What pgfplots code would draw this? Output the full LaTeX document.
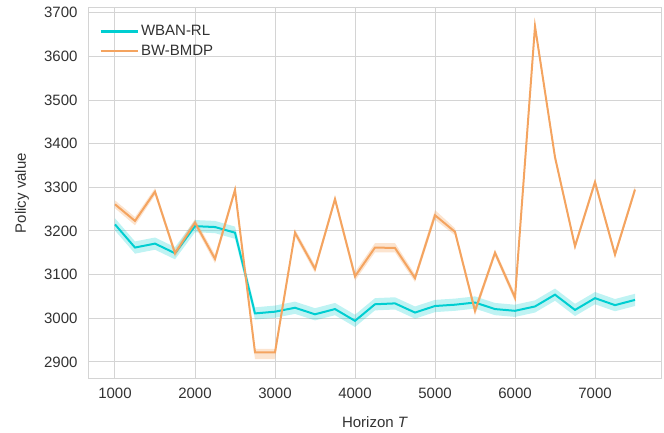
\documentclass[border=0pt]{standalone}
\usepackage{fontspec}
\setmainfont{Liberation Sans}
\usepackage{pgfplots}
\usepackage{pgfplotstable}
\pgfplotsset{compat=1.18}
\usepgfplotslibrary{fillbetween}
\definecolor{wcol}{RGB}{0,206,209}
\definecolor{bcol}{RGB}{244,164,96}
\definecolor{gridc}{RGB}{212,212,212}
\definecolor{txt}{RGB}{50,50,50}
\pgfplotstableread{
x w wlo whi b blo bhi
1000 3215 3201 3229 3261 3252 3270
1250 3162 3148 3176 3223 3213 3232
1500 3171 3157 3185 3290 3282 3298
1750 3149 3135 3163 3149 3140 3158
2000 3211 3197 3225 3219 3211 3227
2250 3209 3195 3223 3136 3126 3146
2500 3196 3182 3210 3294 3286 3302
2750 3011 2997 3025 2922 2906 2930
3000 3015 3001 3029 2922 2906 2930
3250 3024 3010 3038 3196 3188 3204
3500 3009 2995 3023 3113 3104 3122
3750 3021 3007 3035 3273 3265 3281
4000 2994 2980 3008 3096 3086 3106
4250 3032 3018 3046 3162 3151 3172
4500 3034 3020 3048 3161 3151 3172
4750 3013 2999 3027 3092 3083 3101
5000 3028 3014 3042 3236 3226 3248
5250 3031 3017 3045 3198 3190 3206
5500 3036 3022 3050 3017 3006 3026
5750 3021 3007 3035 3150 3142 3158
6000 3017 3003 3031 3047 3038 3056
6250 3027 3013 3041 3669 3661 3677
6500 3054 3040 3068 3369 3361 3377
6750 3019 3005 3033 3165 3157 3173
7000 3046 3032 3060 3312 3304 3320
7250 3030 3016 3044 3146 3138 3154
7500 3042 3028 3056 3295 3287 3303
}\datatable
\begin{document}
\begin{tikzpicture}
\begin{axis}[
  scale only axis, width=572pt, height=370pt,
  xmin=675, xmax=7825, ymin=2863, ymax=3711,
  xtick={1000,2000,...,7000}, ytick={2900,3000,...,3700},
  major tick length=0pt,
  grid=major, major grid style={gridc, line width=1pt},
  axis line style={gridc, line width=1pt},
  tick label style={font=\fontsize{15}{18}\selectfont, text=txt},
  /pgf/number format/assume math mode=true,
  /pgf/number format/1000 sep={},
  xticklabel style={yshift=-6pt},
  yticklabel style={xshift=-8pt},
  label style={font=\fontsize{15}{18}\selectfont, text=txt},
  xlabel={Horizon \textit{T}},
  ylabel={Policy value},
  x label style={at={(axis description cs:0.5,-0.119)}, anchor=center},
  y label style={at={(axis description cs:-0.117,0.5)}, anchor=center},
  legend cell align=left,
  legend style={draw=none, fill=none, at={(axis description cs:0,1)}, anchor=north west,
    xshift=7pt, yshift=-13pt, font=\fontsize{15}{18}\selectfont, text=txt, row sep=4pt,
    /tikz/every even column/.append style={column sep=10pt}},
  legend image code/.code={\draw[#1, line width=2.8pt] (0pt,0pt) -- (37pt,0pt);},
]
\addplot[draw=none, name path=wlo, forget plot] table[x=x, y=wlo] {\datatable};
\addplot[draw=none, name path=whi, forget plot] table[x=x, y=whi] {\datatable};
\addplot[wcol, fill opacity=0.25, draw=none, forget plot] fill between[of=whi and wlo];
\addplot[draw=none, name path=blo, forget plot] table[x=x, y=blo] {\datatable};
\addplot[draw=none, name path=bhi, forget plot] table[x=x, y=bhi] {\datatable};
\addplot[bcol, fill opacity=0.3, draw=none, forget plot] fill between[of=bhi and blo];
\addplot[wcol, line width=2pt, mark=none] table[x=x, y=w] {\datatable};
\addlegendentry{WBAN-RL}
\addplot[bcol, line width=2pt, mark=none] table[x=x, y=b] {\datatable};
\addlegendentry{BW-BMDP}
\end{axis}
\pgfresetboundingbox
\path (-89pt,-54pt) rectangle (575pt,378pt);
\end{tikzpicture}
\end{document}
